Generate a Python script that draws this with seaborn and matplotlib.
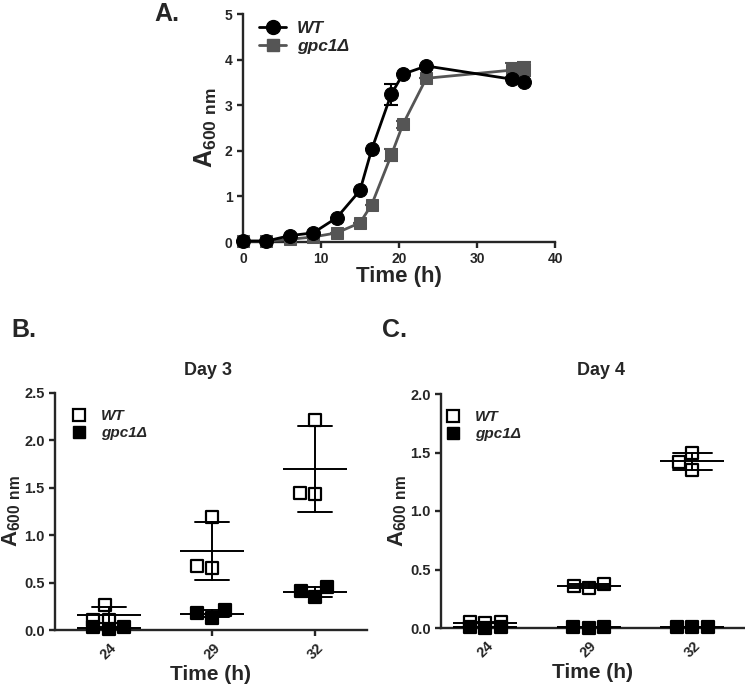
import numpy as np
import pandas as pd
import matplotlib
matplotlib.use("Agg")
import matplotlib.pyplot as plt
from matplotlib.lines import Line2D
from matplotlib.ticker import FormatStrFormatter
import seaborn as sns

# ---- data ----
# A. growth curve
hours = [0, 3, 6, 9, 12, 15, 16.5, 19, 20.5, 23.5, 34.5, 36]
wt_od = [0.02, 0.02, 0.14, 0.20, 0.53, 1.13, 2.03, 3.24, 3.68, 3.86, 3.57, 3.51]
wt_sd = [0, 0, 0, 0, 0, 0, 0, 0.23, 0, 0, 0, 0]
gpc_od = [0.02, 0.02, 0.06, 0.11, 0.20, 0.42, 0.82, 1.90, 2.58, 3.59, 3.77, 3.80]
gpc_sd = [0, 0, 0, 0, 0, 0, 0, 0.13, 0.08, 0, 0.15, 0.15]

# B./C. replicate end points (3 per time point)
times = [24, 29, 32]
day3_wt = [[0.11, 0.26, 0.11], [1.19, 0.67, 0.65], [2.22, 1.44, 1.43]]
day3_gpc = [[0.03, 0.01, 0.03], [0.21, 0.13, 0.18], [0.45, 0.35, 0.41]]
day4_wt = [[0.05, 0.05, 0.04], [0.36, 0.34, 0.38], [1.42, 1.35, 1.50]]
day4_gpc = [[0.01, 0.01, 0.00], [0.01, 0.00, 0.01], [0.01, 0.01, 0.01]]

sns.set_style("ticks")
plt.rcParams['font.family'] = ['Liberation Sans', 'DejaVu Sans']
plt.rcParams['font.weight'] = 'bold'
plt.rcParams['mathtext.fontset'] = 'custom'
plt.rcParams['mathtext.rm'] = 'Liberation Sans:bold'
plt.rcParams['mathtext.bf'] = 'Liberation Sans:bold'
plt.rcParams['axes.linewidth'] = 1.7
plt.rcParams['xtick.major.width'] = 1.7
plt.rcParams['ytick.major.width'] = 1.7
plt.rcParams['xtick.major.size'] = 4
plt.rcParams['ytick.major.size'] = 4

YLAB = r'$\mathbf{A_{600\ nm}}$'
GREY = '#555555'


def long_table(values, strain):
    rows = []
    for t, reps in zip(times, values):
        for v in reps:
            rows.append({'time': t, 'od': v, 'strain': strain})
    return pd.DataFrame(rows)


def bold_ticks(ax, size):
    for lab in ax.get_xticklabels() + ax.get_yticklabels():
        lab.set_fontweight('bold')
        lab.set_fontsize(size)


fig = plt.figure(figsize=(7.45, 6.89), dpi=100)

# ---------------- A. ----------------
axA = fig.add_axes([243 / 745, 1 - 242 / 689, 312 / 745, 228 / 689])
growth = pd.DataFrame({'time': hours + hours,
                       'od': wt_od + gpc_od,
                       'sd': wt_sd + gpc_sd,
                       'strain': ['WT'] * len(hours) + ['gpc1'] * len(hours)})
g_wt = growth[growth.strain == 'WT']
g_gp = growth[growth.strain == 'gpc1']
axA.errorbar(g_gp.time, g_gp.od, yerr=g_gp.sd, fmt='none', ecolor=GREY,
             elinewidth=1.5, capsize=5, capthick=1.5, zorder=2, clip_on=False)
axA.errorbar(g_wt.time, g_wt.od, yerr=g_wt.sd, fmt='none', ecolor='black',
             elinewidth=1.5, capsize=5, capthick=1.5, zorder=2, clip_on=False)
sns.lineplot(data=g_gp, x='time', y='od', ax=axA, color=GREY, marker='s',
             markersize=9, markeredgecolor=GREY, linewidth=2, clip_on=False,
             zorder=3)
sns.lineplot(data=g_wt, x='time', y='od', ax=axA, color='black', marker='o',
             markersize=10, markeredgecolor='black', linewidth=2, clip_on=False,
             zorder=4)
axA.set_xlim(0, 40)
axA.set_ylim(0, 5)
axA.set_xticks([0, 10, 20, 30, 40])
axA.set_yticks([0, 1, 2, 3, 4, 5])
bold_ticks(axA, 10)
axA.set_xlabel('Time (h)', fontsize=16, fontweight='bold', labelpad=0)
axA.set_ylabel(YLAB, fontsize=18, labelpad=4)
sns.despine(ax=axA)
handlesA = [Line2D([], [], color='black', marker='o', markersize=10, lw=2),
            Line2D([], [], color=GREY, marker='s', markersize=9, lw=2)]
axA.legend(handlesA, ['WT', 'gpc1Δ'], loc='upper left', frameon=False,
           bbox_to_anchor=(0.0, 1.04), handlelength=1.6, handletextpad=0.6,
           labelspacing=0.2,
           prop={'size': 12.5, 'weight': 'bold', 'style': 'italic'})


# ---------------- B. / C. ----------------
def day_panel(ax, wt_vals, gpc_vals, ymax, yticks, xlim, cap):
    wt = long_table(wt_vals, 'WT')
    gp = long_table(gpc_vals, 'gpc1')
    for df, face in [(wt, 'white'), (gp, 'black')]:
        sns.swarmplot(data=df, x='time', y='od', order=times, ax=ax,
                      marker='s', size=9, color=face, edgecolor='black',
                      linewidth=1.6, clip_on=False, zorder=3)
        sns.pointplot(data=df, x='time', y='od', order=times, ax=ax,
                      errorbar='sd', color='black', markers='_',
                      linestyle='none', capsize=cap,
                      err_kws={'linewidth': 1.4}, markersize=46,
                      markeredgewidth=1.4, zorder=4)
    ax.set_xlim(*xlim)
    ax.set_ylim(0, ymax)
    ax.set_yticks(yticks)
    ax.yaxis.set_major_formatter(FormatStrFormatter('%.1f'))
    bold_ticks(ax, 10.5)
    for lab in ax.get_xticklabels():
        lab.set_rotation(45)
        lab.set_ha('center')
    ax.set_xlabel('Time (h)', fontsize=15, fontweight='bold', labelpad=2)
    ax.set_ylabel(YLAB, fontsize=16, labelpad=1)
    sns.despine(ax=ax)
    handles = [Line2D([], [], ls='none', marker='s', markersize=9,
                      markerfacecolor='white', markeredgecolor='black',
                      markeredgewidth=1.6),
               Line2D([], [], ls='none', marker='s', markersize=9,
                      markerfacecolor='black', markeredgecolor='black')]
    return handles


axB = fig.add_axes([55 / 745, 1 - 630 / 689, 312 / 745, 237 / 689])
hB = day_panel(axB, day3_wt, day3_gpc, 2.5, [0, 0.5, 1.0, 1.5, 2.0, 2.5],
               (-0.52, 2.5), 0.33)
axB.legend(hB, ['WT', 'gpc1Δ'], loc='upper left', frameon=False,
           bbox_to_anchor=(-0.015, 0.99), handletextpad=0.4, labelspacing=0.2,
           prop={'size': 11, 'weight': 'bold', 'style': 'italic'})

axC = fig.add_axes([441 / 745, 1 - 628 / 689, 304 / 745, 234 / 689])
hC = day_panel(axC, day4_wt, day4_gpc, 2.0, [0, 0.5, 1.0, 1.5, 2.0],
               (-0.43, 2.51), 0.38)
axC.legend(hC, ['WT', 'gpc1Δ'], loc='upper left', frameon=False,
           bbox_to_anchor=(-0.055, 0.99), handletextpad=0.4, labelspacing=0.2,
           prop={'size': 11, 'weight': 'bold', 'style': 'italic'})

fig.text(208 / 745, 1 - 375 / 689, 'Day 3', ha='center', va='baseline',
         fontsize=13, fontweight='bold')
fig.text(601 / 745, 1 - 375 / 689, 'Day 4', ha='center', va='baseline',
         fontsize=13, fontweight='bold')

fig.text(154 / 745, 1 - 21 / 689, 'A.', fontsize=18, fontweight='bold',
         va='baseline')
fig.text(11 / 745, 1 - 337 / 689, 'B.', fontsize=18, fontweight='bold',
         va='baseline')
fig.text(382 / 745, 1 - 337 / 689, 'C.', fontsize=18, fontweight='bold',
         va='baseline')

fig.savefig('out.png', dpi=100)
